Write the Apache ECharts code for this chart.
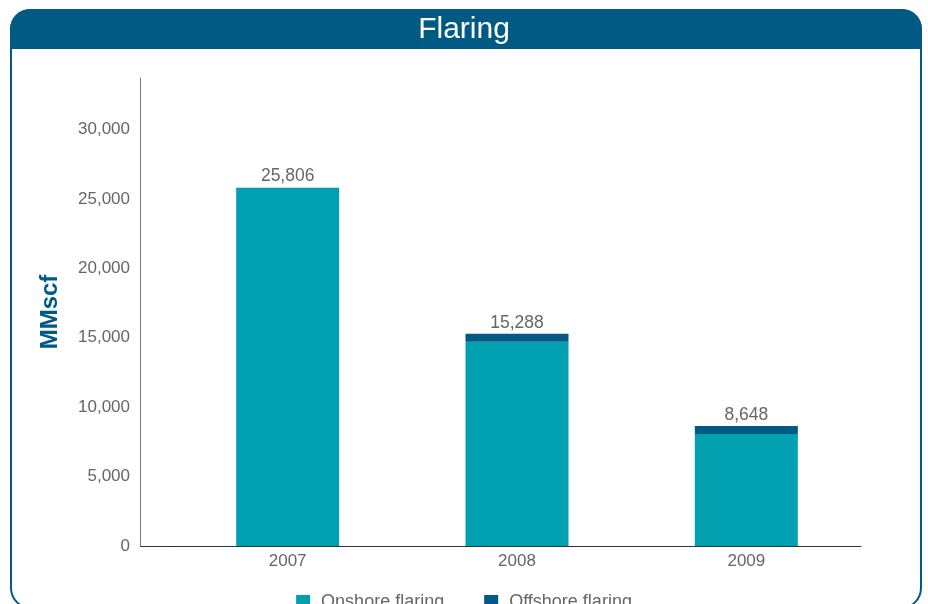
<!DOCTYPE html>
<html>
<head>
<meta charset="utf-8">
<script src="https://cdn.jsdelivr.net/npm/echarts@6/dist/echarts.min.js"></script>
<style>
    html, body { margin: 0; padding: 0; background: #fff; }
    #chart { width: 928px; height: 604px; }
</style>
</head>
<body>
<div id="chart"></div>
<script>
// chart values
var years = ["2007", "2008", "2009"]
var onshore = [25806, 14713, 8073]
var offshore = [0, 575, 575]
var totals = onshore.map(function (v, i) { return v + offshore[i] })

var blue = "#005a84"
var teal = "#00a0b0"

var chart = echarts.init(document.getElementById("chart"))
var option = {
    animation: false,
    textStyle: { fontFamily: "Liberation Sans, Arial, sans-serif" },
    title: {
        text: "Flaring",
        left: "center",
        top: 10,
        textStyle: { color: "#fff", fontSize: 30, fontWeight: "normal" }
    },
    // panel frame + header band
    graphic: [
        {
            type: "rect", z: -10,
            shape: { x: 11, y: 10, width: 910, height: 598, r: 20 },
            style: { fill: "#fff", stroke: blue, lineWidth: 2 }
        },
        {
            type: "rect", z: -9,
            shape: { x: 10, y: 9, width: 912, height: 40, r: [20, 20, 0, 0] },
            style: { fill: blue }
        },
        {
            // x axis line runs on to the y axis
            type: "line", z: -8,
            shape: { x1: 140, y1: 546.5, x2: 174, y2: 546.5 },
            style: { stroke: "#333", lineWidth: 1 }
        }
    ],
    legend: {
        data: ["Onshore flaring", "Offshore flaring"],
        top: 588,
        left: "center",
        icon: "rect",
        itemWidth: 14,
        itemHeight: 14,
        itemGap: 40,
        textStyle: { color: "#666", fontSize: 18, padding: [0, 0, 0, 6] }
    },
    grid: { left: 173, right: 67, top: 78, bottom: 58 },
    xAxis: {
        type: "category",
        data: years,
        axisLine: { lineStyle: { color: "#333" } },
        axisTick: { show: false },
        axisLabel: { color: "#666", fontSize: 17, margin: 7 }
    },
    yAxis: {
        type: "value",
        min: 0,
        max: 33700,
        interval: 5000,
        offset: 33,
        name: "MMscf",
        nameLocation: "middle",
        nameGap: 78,
        nameTextStyle: { color: blue, fontSize: 24, fontWeight: "bold" },
        axisLine: { show: true, lineStyle: { color: "#777" } },
        axisTick: { show: false },
        splitLine: { show: false },
        axisLabel: {
            color: "#666",
            fontSize: 17,
            margin: 10,
            showMaxLabel: false,
            formatter: function (v) { return v.toLocaleString("en-US") }
        }
    },
    series: [
        {
            name: "Onshore flaring",
            type: "bar",
            stack: "total",
            barWidth: 103,
            data: onshore,
            itemStyle: { color: teal }
        },
        {
            name: "Offshore flaring",
            type: "bar",
            stack: "total",
            barWidth: 103,
            data: offshore,
            itemStyle: { color: blue },
            label: {
                show: true,
                position: "top",
                distance: 2,
                color: "#666",
                fontSize: 17.5,
                formatter: function (p) { return totals[p.dataIndex].toLocaleString("en-US") }
            }
        }
    ]
}
chart.setOption(option)
</script>
</body>
</html>
